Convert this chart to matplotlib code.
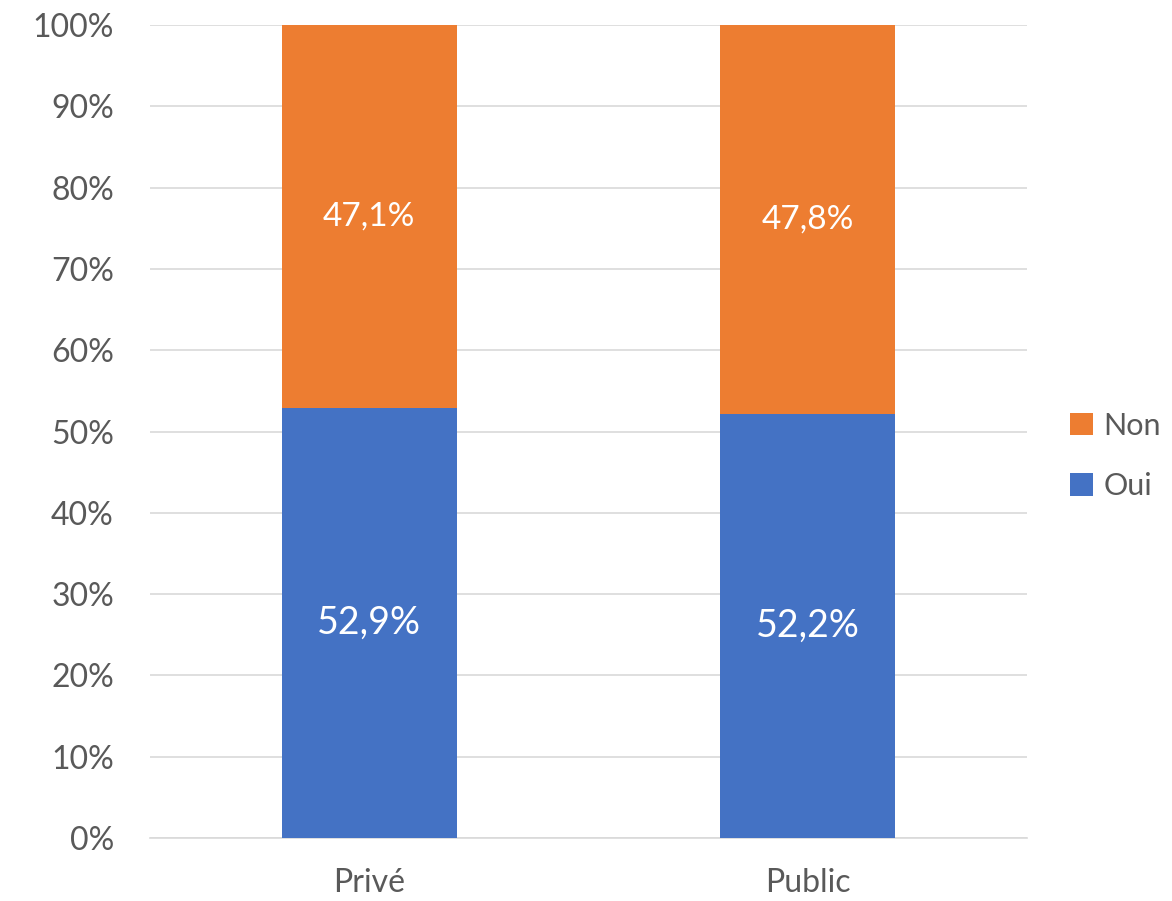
import matplotlib.pyplot as plt
import numpy as np

plt.rcParams['font.family'] = ['Lato', 'DejaVu Sans']

# données
categories = ["Privé", "Public"]
oui = [52.9, 52.2]
non = [47.1, 47.8]
oui_labels = ["52,9%", "52,2%"]
non_labels = ["47,1%", "47,8%"]
yticks = np.arange(0, 101, 10)

BLUE = "#4472C4"
ORANGE = "#ED7D31"
TXT = "#595959"

fig = plt.figure(figsize=(11.72, 9.01), dpi=100)
ax = fig.add_axes([0.128, 0.070, 0.748, 0.902])

x = np.arange(len(categories))
b1 = ax.bar(x, oui, width=0.4, color=BLUE, label="Oui", zorder=3)
b2 = ax.bar(x, non, width=0.4, bottom=oui, color=ORANGE, label="Non", zorder=3)

# étiquettes dans les barres
for i in range(len(categories)):
    ax.text(x[i], oui[i] / 2, oui_labels[i], ha="center", va="center",
            color="white", fontsize=27, zorder=4)
    ax.text(x[i], oui[i] + non[i] / 2, non_labels[i], ha="center", va="center",
            color="white", fontsize=24, zorder=4)

ax.set_xlim(-0.5, 1.5)
ax.set_ylim(0, 100)
ax.set_yticks(yticks)
ax.set_yticklabels([f"{v}%" for v in yticks], fontsize=23, color=TXT)
ax.set_xticks(x)
ax.set_xticklabels(categories, fontsize=23, color=TXT)
ax.tick_params(axis="y", length=0, pad=26)
ax.tick_params(axis="x", length=0, pad=22)
ax.yaxis.grid(True, color="#D9D9D9", linewidth=1.2, zorder=0)
for s in ["top", "right", "left"]:
    ax.spines[s].set_visible(False)
ax.spines["bottom"].set_color("#D9D9D9")
ax.spines["bottom"].set_linewidth(1.2)

leg = ax.legend(handles=[b2, b1], loc="center left", bbox_to_anchor=(1.018, 0.47),
                frameon=False, fontsize=22, handlelength=0.75, handleheight=0.75,
                handletextpad=0.35, labelspacing=1.05, labelcolor=TXT)

fig.savefig("out.png", dpi=100)
